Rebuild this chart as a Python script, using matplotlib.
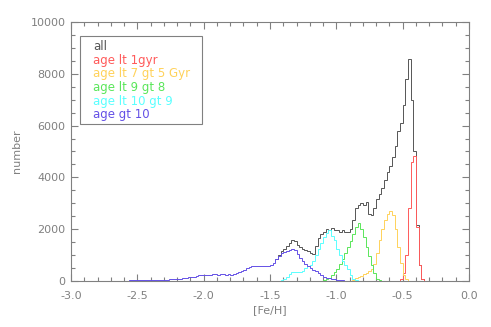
import numpy as np
import matplotlib
matplotlib.use("Agg")
import matplotlib.pyplot as plt
from matplotlib.ticker import MultipleLocator, FormatStrFormatter
from matplotlib.patches import Rectangle

# histogram counts per 0.02 dex bin in [Fe/H]; each list starts at its own left edge
bin_width = 0.02

blue_start = -3.00
blue_counts = [0] * 20 + [
    10, 15, 20, 20, 25, 30, 30, 35, 35, 40,
    40, 40, 45, 45, 50, 45, 55, 60, 60, 70,
    80, 90, 120, 130, 140, 150, 170, 190, 220, 230,
    240, 230, 250, 270, 260, 250, 280, 270, 250, 260,
    240, 270, 300, 350, 380, 430, 490, 530, 560, 580,
    560, 590, 570, 560, 580, 600, 700, 840, 980, 1080,
    1120, 1150, 1200, 1230, 1180, 1050, 900, 780, 640, 560,
    500, 430, 370, 300, 230, 170, 130, 100, 80, 60,
    45, 30, 20, 10, 5, 0]

cyan_start = -1.64
cyan_counts = [0] * 10 + [
    10, 40, 90, 170, 260, 330, 350, 340, 350, 400,
    520, 560, 620, 780, 1000, 1250, 1450, 1700, 1850, 1950,
    1750, 1600, 1250, 1000, 780, 620, 450, 250, 80, 20,
    5, 0]

green_start = -1.12
green_counts = [
    10, 30, 60, 120, 220, 350, 450, 650, 850, 1100,
    1300, 1550, 1800, 2100, 2250, 2000, 1700, 1300, 950, 600,
    300, 80, 20, 0]

orange_start = -0.90
orange_counts = [
    10, 40, 100, 150, 200, 260, 320, 380, 450, 650,
    1100, 1600, 2000, 2350, 2600, 2720, 2550, 2000, 1300, 700,
    250, 60, 10, 0]

red_start = -0.54
red_counts = [10, 60, 300, 1000, 2800, 4600, 4830, 2100, 600, 80, 10, 0]

# "all" above the old-star population (below -1.46 it equals the blue curve)
all_start = -1.46
all_counts = [
    850, 1000, 1150, 1250, 1350, 1450, 1600, 1550, 1400, 1300,
    1250, 1200, 1150, 1100, 1050, 1350, 1650, 1800, 1900, 2000,
    1950, 2050, 1950, 1950, 1900, 1950, 1880, 1900, 2000, 2350,
    2800, 2950, 3000, 2950, 3050, 2600, 2550, 2800, 3150, 3350,
    3600, 3900, 4200, 4450, 4800, 5200, 5800, 6100, 6800, 7800,
    8580, 7000, 5000, 2150, 600, 80, 10, 0]

labels = ["all", "age lt 1gyr", "age lt 7 gt 5 Gyr", "age lt 9 gt 8",
          "age lt 10 gt 9", "age gt 10"]
colors = ["#555555", "#ff5a5a", "#ffd25a", "#5ae65a", "#5affff", "#6450e6"]

axis_col = "#808080"

fig = plt.figure(figsize=(4.91, 3.27), dpi=100)
ax = fig.add_axes([0.1446, 0.1407, 0.8106, 0.7920])


def edges(start, counts):
    return start + bin_width * np.arange(len(counts) + 1)


lw = 0.7
ax.stairs(all_counts, edges(all_start, all_counts), color=colors[0], lw=lw, baseline=None, zorder=3)
ax.stairs(red_counts, edges(red_start, red_counts), color=colors[1], lw=lw, zorder=3)
ax.stairs(orange_counts, edges(orange_start, orange_counts), color=colors[2], lw=lw, zorder=3)
ax.stairs(green_counts, edges(green_start, green_counts), color=colors[3], lw=lw, zorder=3)
ax.stairs(cyan_counts, edges(cyan_start, cyan_counts), color=colors[4], lw=lw, zorder=3)
ax.stairs(blue_counts, edges(blue_start, blue_counts), color=colors[5], lw=lw, zorder=3)

ax.set_xlim(-3.0, 0.0)
ax.set_ylim(0, 10000)
ax.xaxis.set_major_locator(MultipleLocator(0.5))
ax.xaxis.set_minor_locator(MultipleLocator(0.1))
ax.xaxis.set_major_formatter(FormatStrFormatter("%.1f"))
ax.yaxis.set_major_locator(MultipleLocator(2000))
ax.yaxis.set_minor_locator(MultipleLocator(500))

for s in ax.spines.values():
    s.set_color(axis_col)
    s.set_linewidth(0.8)
ax.tick_params(which="both", direction="in", top=True, right=True,
               color=axis_col, width=0.8, labelcolor=axis_col, labelsize=8)
ax.tick_params(which="major", length=5)
ax.tick_params(which="minor", length=3)
ax.tick_params(axis="x", pad=7)
ax.tick_params(axis="y", pad=4)

ax.set_xlabel("[Fe/H]", color=axis_col, fontsize=8, labelpad=3)
ax.set_ylabel("number", color=axis_col, fontsize=8, labelpad=6)

# legend box with coloured labels
ax.add_patch(Rectangle((0.0226, 0.605), 0.3065, 0.341, transform=ax.transAxes,
                       fill=False, edgecolor=axis_col, lw=0.8, zorder=4))
for i, (lab, c) in enumerate(zip(labels, colors)):
    ax.text(0.055, 0.905 - i * 0.0527, lab, transform=ax.transAxes,
            color=c, fontsize=8.5, va="center", ha="left")

fig.savefig("out.png", dpi=100)
